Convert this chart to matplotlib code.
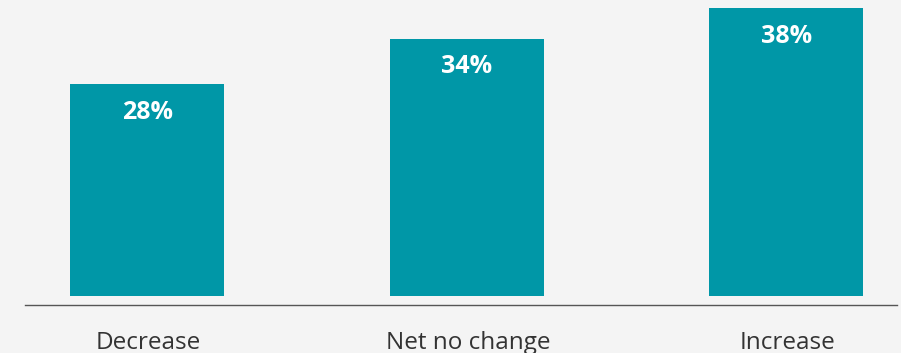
import matplotlib
matplotlib.use("Agg")
import matplotlib.pyplot as plt
import matplotlib.transforms as mtransforms

plt.rcParams['font.family'] = ['Open Sans', 'DejaVu Sans']

categories = ['Decrease', 'Net no change', 'Increase']
shares = [28, 34, 38]
value_labels = ['28%', '34%', '38%']

bg = '#f4f4f4'
teal = '#0097a7'

fig = plt.figure(figsize=(9.01, 3.53), dpi=100, facecolor=bg)
# axes spans from the baseline rule (y=305px) to the top edge
ax = fig.add_axes([25 / 901, 48 / 353, 872 / 901, 305 / 353], facecolor=bg)

x = range(len(categories))
bars = ax.bar(x, shares, width=0.482, color=teal, zorder=2)

ax.set_xlim(-0.382, 2.347)
ax.set_ylim(-1.2, 38 + 9 / 7.58 - 0.1)

for spine in ['top', 'right', 'left']:
    ax.spines[spine].set_visible(False)
ax.spines['bottom'].set_color('#555555')
ax.spines['bottom'].set_linewidth(1.0)
ax.set_yticks([])
ax.set_xticks([])

# category names below the rule
trans = mtransforms.blended_transform_factory(ax.transData, fig.transFigure)
for xi, name in zip(x, categories):
    ax.text(xi + 0.004, 4 / 353, name, transform=trans, ha='center', va='baseline',
            fontsize=17.5, color='#333333', clip_on=False)

# value labels inside the top of each bar
for bar, lab in zip(bars, value_labels):
    ax.annotate(lab, (bar.get_x() + bar.get_width() / 2, bar.get_height()),
                xytext=(0, -25), textcoords='offset points',
                ha='center', va='baseline', fontsize=18, fontweight='bold',
                color='white')

fig.savefig('out.png', dpi=100, facecolor=bg)
